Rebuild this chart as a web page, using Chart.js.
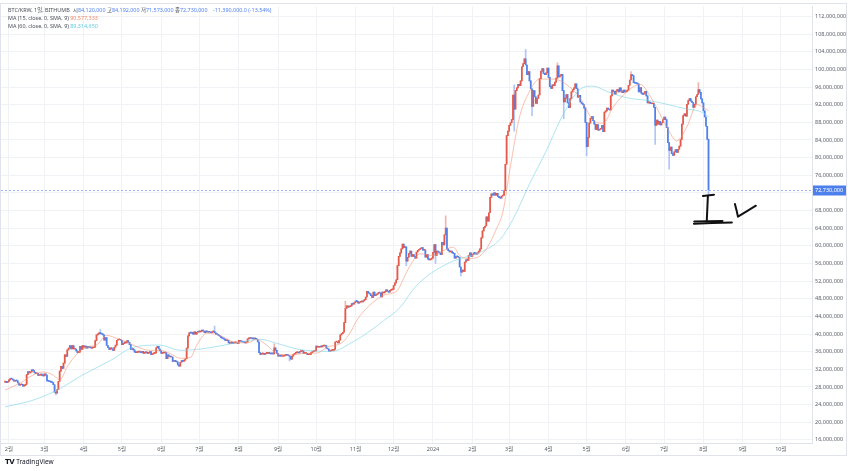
<!DOCTYPE html>
<html>
<head>
<meta charset="utf-8">
<script src="https://cdn.jsdelivr.net/npm/chart.js@4.4.0/dist/chart.umd.min.js"></script>
<style>
  html, body { margin: 0; padding: 0; background: #fff; }
  #wrap { position: relative; width: 850px; height: 471px; background: #fff; overflow: hidden; }
  #chart { position: absolute; left: 0; top: 0; }
  .legend { position: absolute; left: 8px; top: 6px; width: 300px; font-family: "Noto Sans", "Noto Sans CJK KR", sans-serif; font-size: 5.4px; line-height: 8px; color: #4a4d56; white-space: nowrap; }
  .legend .row { position: relative; height: 8px; }
  .legend .row span.g { position: absolute; top: 0; }
  .legend .dn { color: #4d7fec; }
  .legend .m15 { color: #f4866a; }
  .legend .m60 { color: #5fcbe3; }
  .logo { position: absolute; left: 5px; top: 457px; font-family: "Noto Sans", sans-serif; font-size: 6.5px; color: #131722; white-space: nowrap; }
  .logo b { font-family: "DejaVu Sans", sans-serif; font-weight: 900; font-size: 7px; letter-spacing: -0.5px; margin-right: 2px; }
</style>
</head>
<body>
<div id="wrap">
  <canvas id="chart" width="850" height="471"></canvas>
  <div class="legend">
    <div class="row">
      <span class="g" style="left:0">BTC/KRW, 1일, BITHUMB</span>
      <span class="g" style="left:65px">시<span class="dn">84,120,000</span></span>
      <span class="g" style="left:99px">고<span class="dn">84,192,000</span></span>
      <span class="g" style="left:133px">저<span class="dn">71,573,000</span></span>
      <span class="g" style="left:167px">종<span class="dn">72,730,000</span></span>
      <span class="g dn" style="left:205px">-11,390,000.0 (-13.54%)</span>
    </div>
    <div class="row">MA (15, close, 0, SMA, 9) <span class="m15">90,577,333</span></div>
    <div class="row">MA (60, close, 0, SMA, 9) <span class="m60">89,314,650</span></div>
  </div>
  <div class="logo"><b>TV</b>TradingView</div>
</div>
<script>
// daily candles, day 0 = 2023-01-29, prices in millions of KRW
const startDay = Date.UTC(2023, 0, 29);
const firstOpen = 29.1;
const closes = [
  // 2023 Jan 29-31
  29.3, 29.0, 29.2,
  // Feb
  29.6, 29.9, 29.8, 29.6, 29.3, 29.5, 29.4, 28.9, 28.4, 28.5, 28.6, 28.2, 28.3, 28.6,
  30.8, 31.5, 31.2, 31.4, 31.9, 31.7, 31.3, 31.0, 31.1, 30.6, 30.7, 30.9, 30.6, 30.5,
  // Mar
  31.0, 30.7, 29.4, 29.3, 29.2, 29.1, 29.0, 28.5, 26.8,
  26.6, 27.4, 29.3, 31.6, 32.7, 32.2, 33.4, 35.3, 34.9, 36.4, 36.8,
  37.4, 36.6, 37.4, 36.6, 36.6, 36.2, 35.8, 35.9, 37.2, 36.5, 37.4,
  // Apr
  37.0, 37.3, 36.8, 37.2, 37.0, 36.9, 36.8, 36.9, 37.0, 38.5,
  39.8, 40.0, 40.3, 40.1, 40.0, 39.8, 38.6, 39.2, 37.4, 36.9,
  36.5, 36.9, 36.6, 36.3, 37.0, 37.5, 38.6, 38.7, 38.8, 38.6,
  // May
  37.6, 37.8, 38.2, 38.0, 38.5, 38.1, 37.6, 36.5, 36.7, 36.4,
  35.9, 35.8, 35.9, 35.9, 36.0, 35.8, 36.1, 35.6, 35.8, 35.9,
  35.6, 35.7, 36.0, 35.3, 35.5, 35.6, 35.7, 36.9, 37.2, 36.6, 36.2,
  // Jun
  35.6, 35.8, 35.7, 35.8, 34.4, 35.3, 34.9, 34.8, 34.8, 33.8,
  33.9, 33.8, 33.7, 33.0, 32.7, 33.6, 34.0, 33.8, 34.1, 34.4,
  36.8, 39.6, 40.3, 40.2, 40.4, 40.0, 40.5, 40.0, 40.4, 40.6,
  // Jul
  40.5, 40.6, 40.9, 40.7, 40.3, 40.7, 40.5, 40.4, 40.4, 40.3,
  40.5, 40.6, 40.3, 40.0, 39.9, 39.7, 39.5, 39.2, 39.0, 38.9,
  38.6, 38.5, 38.6, 38.0, 37.9, 38.2, 37.9, 38.0, 38.0, 38.0, 37.9,
  // Aug
  38.6, 38.3, 38.3, 38.2, 38.1, 38.0, 38.2, 38.9, 39.1, 39.0,
  39.0, 38.9, 39.0, 38.9, 38.8, 38.2, 35.8, 35.4, 35.5, 35.5,
  35.4, 35.6, 35.8, 35.6, 35.6, 35.5, 35.6, 35.5, 36.9, 36.3, 35.6,
  // Sep
  35.0, 35.1, 35.0, 35.0, 35.0, 35.1, 35.4, 35.2, 35.1, 34.9,
  34.3, 35.0, 35.4, 35.6, 35.8, 35.8, 35.7, 36.0, 36.1, 36.2,
  35.6, 35.6, 35.6, 35.3, 35.4, 35.4, 35.8, 36.0, 36.1, 36.2,
  // Oct
  37.3, 37.0, 37.0, 37.2, 37.1, 37.4, 37.3, 37.4, 36.8, 36.6,
  36.1, 36.2, 36.3, 36.3, 36.5, 38.2, 38.2, 38.0, 38.6, 39.8,
  40.1, 40.4, 42.6, 45.8, 46.4, 46.1, 46.2, 46.4, 46.9, 46.8, 47.1,
  // Nov
  47.5, 47.4, 47.0, 47.2, 47.4, 47.3, 47.5, 47.8, 48.4, 49.7,
  49.3, 49.1, 48.7, 48.3, 49.5, 48.7, 48.9, 49.1, 49.4, 49.3,
  48.4, 49.5, 49.3, 49.6, 50.0, 49.7, 49.5, 49.9, 50.0, 50.1,
  // Dec
  51.0, 51.6, 52.3, 55.5, 57.6, 58.4, 59.3, 60.4, 59.6, 59.8,
  56.5, 57.4, 58.3, 58.8, 57.6, 58.0, 57.6, 57.2, 58.6, 59.0,
  59.2, 59.4, 59.6, 59.0, 59.1, 57.4, 58.0, 57.0, 56.8, 57.0, 57.2,
  // 2024 Jan
  58.5, 60.3, 57.8, 58.8, 58.6, 58.4, 58.0, 60.8, 60.2, 62.5,
  64.0, 59.3, 58.9, 58.6, 58.8, 58.4, 58.3, 57.2, 57.6, 57.5,
  57.4, 55.2, 54.0, 54.5, 54.2, 56.3, 56.8, 56.7, 57.8, 58.4, 57.6,
  // Feb
  58.0, 58.4, 58.3, 58.1, 58.4, 58.8, 59.3, 61.8, 63.4, 64.2,
  64.5, 66.6, 65.6, 67.5, 71.0, 71.8, 71.5, 72.0, 71.5, 71.9,
  71.2, 70.9, 70.8, 71.3, 71.4, 72.5, 78.5, 85.0, 86.0,
  // Mar
  87.3, 87.9, 88.6, 94.2, 91.0, 95.2, 95.8, 96.6, 96.3, 97.4,
  100.6, 101.3, 102.4, 101.0, 98.8, 99.5, 97.4, 95.6, 91.6, 95.2,
  93.8, 92.3, 93.4, 94.2, 97.9, 99.6, 100.2, 99.1, 98.8, 99.2, 100.3,
  // Apr
  98.2, 96.1, 95.7, 96.5, 96.3, 97.1, 98.0, 100.8, 98.3, 98.6,
  98.9, 95.2, 92.6, 93.5, 94.3, 92.4, 91.3, 93.4, 94.9, 95.4,
  95.8, 96.7, 95.6, 93.7, 94.1, 92.6, 92.3, 92.0, 91.2, 88.0,
  // May
  82.5, 84.6, 87.8, 88.9, 89.3, 88.4, 87.6, 86.4, 87.5, 86.2,
  86.4, 86.6, 87.3, 85.9, 90.3, 90.6, 91.2, 91.0, 90.8, 94.0,
  95.3, 95.0, 94.4, 95.1, 95.4, 94.9, 95.8, 95.1, 94.7, 95.3, 94.9,
  // Jun
  95.0, 95.3, 96.4, 97.6, 98.8, 98.6, 97.0, 96.9, 96.8, 96.7,
  94.9, 95.9, 94.6, 94.3, 94.6, 95.0, 94.0, 92.4, 92.6, 92.3,
  92.2, 92.3, 91.4, 87.3, 88.5, 87.6, 88.2, 87.4, 87.9, 88.6,
  // Jul
  89.2, 88.6, 86.8, 83.4, 81.6, 82.4, 80.9, 80.5, 81.3, 81.8,
  81.2, 81.9, 82.6, 84.1, 87.6, 89.5, 89.9, 89.4, 92.1, 92.9,
  93.4, 92.8, 92.5, 91.4, 92.1, 93.8, 94.3, 95.4, 94.8, 93.3, 92.4,
  // Aug 1-5
  90.6, 89.2, 87.1, 84.12, 72.73
];
// days with a visible wick: [day, low, high]
const wicks = [
  [40, 26.2, null], [75, null, 41.0], [165, null, 41.8], [212, null, 37.8],
  [224, 33.9, null], [268, null, 47.5], [316, 55.5, null], [339, 56.0, null],
  [347, null, 66.8], [359, 53.2, null], [401, 86.0, 96.5], [410, null, 104.5],
  [415, 89.5, null], [435, null, 101.5], [440, 88.8, null], [458, 80.4, null],
  [493, null, 99.5], [512, 83.0, null], [523, 77.4, null], [546, null, 97.0],
  [554, 71.573, 84.192]
];
// moving averages: [day, value]
const ma15 = [
  [0, 27.3], [12, 28.9], [22, 30.7], [30, 31.4], [38, 30.7], [43, 29.6], [49, 32.6],
  [57, 35.6], [65, 37.1], [72, 37.5], [80, 39.7], [88, 39.0], [96, 38.2], [104, 37.1],
  [114, 36.3], [122, 36.3], [130, 35.6], [138, 34.5], [146, 34.7], [151, 37.5],
  [159, 40.2], [169, 39.7], [180, 38.2], [191, 38.0], [198, 38.8], [206, 37.5],
  [214, 35.6], [224, 35.2], [235, 35.6], [246, 35.7], [254, 37.1], [261, 37.5],
  [266, 38.2], [272, 40.4], [277, 43.1], [282, 45.0], [287, 46.5], [298, 48.8],
  [309, 49.9], [313, 52.1], [319, 55.5], [327, 58.2], [337, 57.8], [345, 58.9],
  [353, 59.7], [358, 57.8], [364, 57.1], [372, 57.4], [380, 59.7], [387, 63.9],
  [392, 67.6], [398, 78.0], [405, 89.0], [413, 95.0], [421, 97.8], [432, 97.8],
  [442, 96.6], [453, 93.5], [463, 88.5], [471, 87.8], [479, 91.5], [490, 95.0],
  [500, 96.6], [510, 93.0], [521, 87.0], [529, 83.8], [537, 87.0], [545, 92.0],
  [552, 91.0], [554, 90.577]
];
const ma60 = [
  [0, 23.5], [22, 25.0], [41, 27.3], [61, 30.7], [83, 34.0], [101, 37.0], [122, 37.5],
  [138, 36.3], [159, 36.8], [180, 37.9], [201, 38.8], [214, 37.9], [232, 36.5],
  [258, 36.1], [272, 37.9], [285, 40.2], [298, 43.0], [311, 46.0], [324, 51.0],
  [350, 56.2], [374, 58.5], [390, 61.5], [400, 66.0], [413, 74.0], [427, 82.0],
  [439, 89.5], [453, 95.5], [463, 96.2], [474, 95.0], [484, 94.0], [495, 93.3],
  [506, 93.0], [521, 92.1], [537, 91.0], [547, 90.5], [554, 89.315]
];
const priceTicks = [16, 20, 24, 28, 32, 36, 40, 44, 48, 52, 56, 60, 64, 68, 72, 76, 80, 84, 88, 92, 96, 100, 104, 108, 112];
const monthStarts = [
  '2023-02-01', '2023-03-01', '2023-04-01', '2023-05-01', '2023-06-01', '2023-07-01',
  '2023-08-01', '2023-09-01', '2023-10-01', '2023-11-01', '2023-12-01', '2024-01-01',
  '2024-02-01', '2024-03-01', '2024-04-01', '2024-05-01', '2024-06-01', '2024-07-01',
  '2024-08-01', '2024-09-01', '2024-10-01'
];
const monthLabels = ['2월', '3월', '4월', '5월', '6월', '7월', '8월', '9월', '10월', '11월', '12월', '2024',
  '2월', '3월', '4월', '5월', '6월', '7월', '8월', '9월', '10월'];
// hand drawn marker next to the last candle: [day, price] points of each stroke
const markup = [
  [[549.6, 71.3], [558.3, 71.6]],
  [[553.5, 71.3], [553.0, 68.0], [552.6, 65.5]],
  [[542.5, 65.0], [557, 65.2], [572.4, 65.3]],
  [[542.8, 65.5], [565, 65.6]],
  [[574.8, 69.5], [576.3, 67.8], [577.2, 66.6], [584, 67.8], [591.3, 69.1]]
];

const UP = '#e4594a', DOWN = '#4f80ec';
const FONT = '"Noto Sans", "Noto Sans CJK KR", sans-serif';

const opens = closes.map((c, i) => i === 0 ? firstOpen : closes[i - 1]);
const lows = closes.map((c, i) => Math.min(c, opens[i]));
const highs = closes.map((c, i) => Math.max(c, opens[i]));
wicks.forEach(([d, lo, hi]) => {
  if (lo !== null) lows[d] = lo;
  if (hi !== null) highs[d] = hi;
});
const isUp = closes.map((c, i) => c >= opens[i]);
const monthDays = monthStarts.map(s => {
  const [y, m, d] = s.split('-').map(Number);
  return Math.round((Date.UTC(y, m - 1, d) - startDay) / 86400000);
});
const lastClose = closes[closes.length - 1];

const framePlugin = {
  id: 'frame',
  beforeDraw(chart) {
    const ctx = chart.ctx;
    ctx.save();
    ctx.fillStyle = '#fff';
    ctx.fillRect(0, 0, chart.width, chart.height);
    ctx.strokeStyle = '#e0e3eb';
    ctx.lineWidth = 1;
    ctx.strokeRect(0.5, 3.5, 846, 452);
    ctx.restore();
  }
};

const lastPricePlugin = {
  id: 'lastPrice',
  afterDatasetsDraw(chart) {
    const ctx = chart.ctx, a = chart.chartArea;
    const y = Math.round(chart.scales.y.getPixelForValue(lastClose)) + 0.5;
    ctx.save();
    ctx.strokeStyle = 'rgba(77,127,236,0.55)';
    ctx.setLineDash([2, 2]);
    ctx.lineWidth = 1;
    ctx.beginPath();
    ctx.moveTo(a.left, y);
    ctx.lineTo(a.right, y);
    ctx.stroke();
    ctx.setLineDash([]);
    ctx.fillStyle = '#4d7fec';
    ctx.fillRect(a.right + 1, y - 5, 33, 10);
    ctx.fillStyle = '#fff';
    ctx.font = '5.5px ' + FONT;
    ctx.textBaseline = 'middle';
    ctx.fillText((lastClose * 1e6).toLocaleString('en-US'), a.right + 3, y);
    ctx.restore();
  }
};

const markupPlugin = {
  id: 'markup',
  afterDraw(chart) {
    const ctx = chart.ctx, sx = chart.scales.x, sy = chart.scales.y;
    ctx.save();
    ctx.strokeStyle = '#111';
    ctx.lineWidth = 2;
    ctx.lineCap = 'round';
    ctx.lineJoin = 'round';
    markup.forEach(stroke => {
      ctx.beginPath();
      stroke.forEach(([d, v], i) => {
        const px = sx.getPixelForValue(d), py = sy.getPixelForValue(v);
        if (i === 0) ctx.moveTo(px, py); else ctx.lineTo(px, py);
      });
      ctx.stroke();
    });
    ctx.restore();
  }
};

new Chart(document.getElementById('chart'), {
  type: 'bar',
  data: {
    datasets: [
      {
        type: 'line',
        data: ma15.map(([x, y]) => ({ x, y })),
        borderColor: 'rgba(246,140,108,0.55)',
        borderWidth: 1,
        pointRadius: 0,
        cubicInterpolationMode: 'monotone',
        order: 0
      },
      {
        type: 'line',
        data: ma60.map(([x, y]) => ({ x, y })),
        borderColor: 'rgba(120,212,234,0.6)',
        borderWidth: 1,
        pointRadius: 0,
        cubicInterpolationMode: 'monotone',
        order: 0
      },
      {
        data: closes.map((c, i) => ({ x: i, y: [opens[i], c] })),
        backgroundColor: isUp.map(u => u ? UP : DOWN),
        barThickness: 1,
        minBarLength: 1,
        grouped: false,
        order: 1
      },
      {
        data: closes.map((c, i) => ({ x: i, y: [lows[i], highs[i]] })),
        backgroundColor: isUp.map(u => u ? 'rgba(228,89,74,0.45)' : 'rgba(79,128,236,0.45)'),
        barThickness: 1,
        grouped: false,
        order: 2
      }
    ]
  },
  options: {
    responsive: false,
    animation: false,
    devicePixelRatio: 1,
    layout: { padding: { left: 1, top: 4, right: 4, bottom: 16 } },
    plugins: {
      legend: { display: false },
      tooltip: { enabled: false }
    },
    scales: {
      x: {
        type: 'linear',
        min: -3.2,
        max: 635.5,
        offset: false,
        grid: { color: '#f1f2f6', drawTicks: false, offset: false },
        border: { color: '#e0e3eb' },
        ticks: {
          autoSkip: false,
          maxRotation: 0,
          padding: 3,
          color: '#5d606b',
          font: { size: 5.5, family: FONT },
          callback: (v, i) => monthLabels[i]
        },
        afterBuildTicks: s => { s.ticks = monthDays.map(v => ({ value: v })); },
        afterFit: s => { s.height = 12; }
      },
      y: {
        type: 'linear',
        position: 'right',
        min: 15.3,
        max: 114.3,
        grid: { color: '#f1f2f6', drawTicks: false },
        border: { color: '#e0e3eb' },
        ticks: {
          padding: 3,
          color: '#5d606b',
          font: { size: 5.5, family: FONT },
          callback: v => (v * 1e6).toLocaleString('en-US')
        },
        afterBuildTicks: s => { s.ticks = priceTicks.map(v => ({ value: v })); },
        afterFit: s => { s.width = 34; }
      }
    }
  },
  plugins: [framePlugin, lastPricePlugin, markupPlugin]
});
</script>
</body>
</html>
